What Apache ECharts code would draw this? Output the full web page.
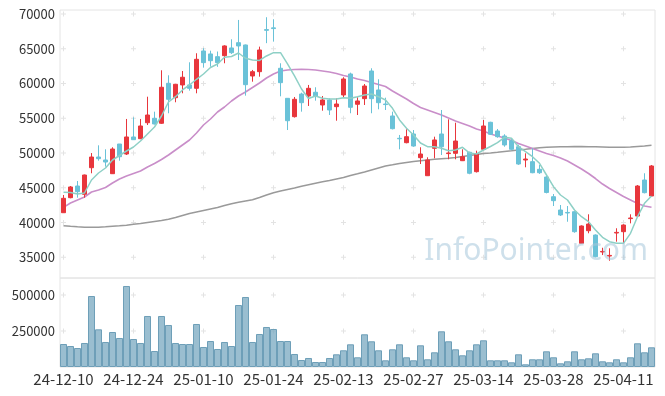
<!DOCTYPE html>
<html>
<head>
<meta charset="utf-8">
<script src="https://cdn.jsdelivr.net/npm/echarts@6/dist/echarts.min.js"></script>
<style>
html,body{margin:0;padding:0;background:#fff;}
#chart{width:665px;height:396px;}
</style>
</head>
<body>
<div id="chart"></div>
<script>
const dates = ['24-12-10','24-12-11','24-12-12','24-12-13','24-12-16','24-12-17','24-12-18','24-12-19','24-12-20','24-12-23',
'24-12-24','24-12-26','24-12-27','24-12-30','25-01-02','25-01-03','25-01-06','25-01-07','25-01-08','25-01-09',
'25-01-10','25-01-13','25-01-14','25-01-15','25-01-16','25-01-17','25-01-20','25-01-21','25-01-22','25-01-23',
'25-01-24','25-01-31','25-02-03','25-02-04','25-02-05','25-02-06','25-02-07','25-02-10','25-02-11','25-02-12',
'25-02-13','25-02-14','25-02-17','25-02-18','25-02-19','25-02-20','25-02-21','25-02-24','25-02-25','25-02-26',
'25-02-27','25-02-28','25-03-04','25-03-05','25-03-06','25-03-07','25-03-10','25-03-11','25-03-12','25-03-13',
'25-03-14','25-03-17','25-03-18','25-03-19','25-03-20','25-03-21','25-03-24','25-03-25','25-03-26','25-03-27',
'25-03-28','25-03-31','25-04-01','25-04-02','25-04-03','25-04-04','25-04-07','25-04-08','25-04-09','25-04-10',
'25-04-11','25-04-14','25-04-15','25-04-16','25-04-17'];

const openPrices = [41420,43580,45260,44070,47890,49430,49000,47030,51300,49860,
52310,52060,54360,55000,54280,60030,57960,59790,59790,59310,
64680,64250,63860,64000,65110,65870,65540,61080,61700,67750,
68000,62190,57870,55230,58490,58200,58740,56910,57630,56670,
58350,61370,57010,57820,61800,59070,57050,55330,52120,51490,
52740,49330,46740,50680,52740,49920,49960,48900,50110,47320,
50540,54420,53170,52450,51780,50910,49000,48760,47660,46550,
43720,41810,41460,41560,37020,38830,38210,35770,35190,38500,
38690,40570,40940,46120,43820];
const closePrices = [43490,45120,44440,46840,49430,49190,48710,50580,49470,52310,
51920,53890,55470,54180,59460,57730,59890,60900,59310,63480,
63000,63280,63000,65400,64430,65400,59830,61700,64820,67650,
67900,60120,54650,57730,57240,59310,58200,57630,56190,57050,
60650,56580,57490,59640,57820,57240,56970,53500,52050,52350,
51010,49860,49000,51880,50910,50010,51730,49470,47090,49860,
53890,52700,52350,51160,50540,48420,49140,47170,47170,44330,
43150,41090,41380,38690,39510,39790,35090,35850,35280,38590,
39650,40660,45260,44300,48140];
const lowPrices = [41400,43490,43580,43580,47090,48900,48040,47000,48900,49720,
51880,52000,54030,54100,54180,55720,57300,58590,58970,58590,
62280,62420,62400,62910,64250,63380,58250,60260,60980,65800,
66020,58160,53310,55100,55950,56770,57530,56090,55470,54650,
58020,55720,55470,56910,55720,56290,56190,53400,50540,51400,
50900,48420,46700,49240,49720,49100,49100,48850,46950,47200,
50400,52600,52200,50910,50400,48300,47950,47100,47000,44200,
42380,40950,40120,38540,36950,38460,35000,35330,34510,37250,
36920,39890,40850,44200,43700];
const highPrices = [43970,45260,45980,46900,50000,51110,50540,50830,51300,54900,
55140,54900,58100,55950,61900,61180,59950,61800,63050,64350,
65070,64720,64600,65500,66360,69140,65600,61950,65300,69530,
69240,62910,57900,58060,58680,59790,59460,58200,57870,57870,
60900,61560,58020,59930,62190,60610,57960,55950,52600,53420,
53310,50830,49390,52350,56190,54850,54360,50540,50200,50340,
54750,54500,53460,52700,52000,51200,49960,50680,48280,46700,
44110,42530,42380,41650,39600,41190,38300,36380,36300,39180,
39750,41190,45400,47090,48280];
const volumes = [159700,145800,131900,166700,493000,261600,173600,243000,201400,562500,
194400,166700,354200,111100,354200,291700,166700,159700,159700,298600,
138900,180500,125000,173600,145800,430500,486100,173600,229200,277800,
263900,180500,180500,90300,48600,62500,34700,34700,62500,88200,
116000,157600,67400,227100,178500,116000,46500,122900,157600,67400,
46500,150700,53500,102100,247900,178500,122900,81200,116000,157600,
185400,46500,46500,46500,32600,88200,18700,53500,53500,109000,
67400,25700,39600,109000,53500,60400,95100,39600,32600,53500,
32600,67400,164600,102100,136800];
const ma5 = [44353,44325,44109,44253,46123,47129,47849,48999,49646,50294,
50869,51732,52739,53746,55328,57342,58104,59068,59787,60607,
61370,62305,62808,63772,63887,64390,63628,63383,63311,63959,
64433,64433,62808,61082,59212,57846,58205,57874,57774,57774,
57961,57874,58104,58349,58493,58104,57630,56436,54753,53559,
52595,51445,50912,50912,50682,50337,50438,50826,50006,49862,
50438,50941,51488,52264,52121,50912,50193,49474,48525,46842,
45159,43965,43246,41807,40844,40125,38931,37881,37247,37017,
37017,38456,40844,42771,43821];
const ma20 = [42196,42814,43246,43677,44396,44684,45044,45691,46266,46698,
47058,47417,47992,48496,49071,49719,50438,51157,51876,52883,
54034,54897,55904,56623,57486,58205,58780,59428,60075,60794,
61370,61801,61945,62017,62046,62017,61945,61801,61657,61442,
61154,60938,60650,60435,60147,59859,59572,58924,58349,57774,
57126,56551,56191,55832,55472,55041,54609,54250,53890,53458,
53171,52739,52452,52164,51804,51373,51013,50654,50294,49934,
49646,49287,48856,48280,47705,47058,46338,45547,44900,44325,
43749,43246,42742,42383,42196];
const ma60 = [39549,39463,39391,39333,39319,39333,39391,39463,39535,39621,
39750,39866,40009,40153,40297,40470,40729,41016,41304,41520,
41735,41951,42167,42455,42713,42929,43102,43274,43605,43965,
44296,44540,44756,44972,45216,45432,45648,45864,46051,46266,
46482,46770,47014,47273,47561,47849,48136,48309,48496,48640,
48784,48899,48999,49100,49172,49244,49359,49503,49646,49790,
49934,50006,50107,50222,50323,50438,50539,50654,50754,50826,
50869,50898,50912,50927,50927,50912,50898,50869,50840,50826,
50840,50869,50941,51013,51114];
const priceTicks = [35000,40000,45000,50000,55000,60000,65000,70000];
const volumeTicks = [250000,500000];
const labelStep = 10;

const candleData = dates.map((d,i)=>[openPrices[i],closePrices[i],lowPrices[i],highPrices[i]]);
const labelIdx = dates.map((d,i)=>i).filter(i=>i%labelStep===0);
const crossPrice = [];
labelIdx.forEach(i=>priceTicks.forEach(v=>crossPrice.push([dates[i],v])));
const crossVol = [];
labelIdx.forEach(i=>volumeTicks.forEach(v=>crossVol.push([dates[i],v])));

const plus = 'path://M2,0H3V2H5V3H3V5H2V3H0V2H2Z';
const font = '"Noto Sans CJK KR","Noto Sans",sans-serif';
const plain = v => String(v);

const chart = echarts.init(document.getElementById('chart'), null, {renderer:'canvas'});
chart.setOption({
  animation:false,
  backgroundColor:'#fff',
  grid:[
    {left:60,right:10,top:10,height:268,show:true,borderColor:'#e4e4e4',borderWidth:1,backgroundColor:'transparent'},
    {left:60,right:10,top:278,height:89,show:true,borderColor:'#e4e4e4',borderWidth:1,backgroundColor:'transparent'}
  ],
  xAxis:[
    {type:'category',gridIndex:0,data:dates,boundaryGap:true,axisLine:{show:false},axisTick:{show:false},axisLabel:{show:false},splitLine:{show:false}},
    {type:'category',gridIndex:1,data:dates,boundaryGap:true,axisLine:{show:false},axisTick:{show:false},
      axisLabel:{interval:labelStep-1,fontSize:15,color:'#333',fontFamily:font,margin:5},splitLine:{show:false}}
  ],
  yAxis:[
    {type:'value',gridIndex:0,min:32030,max:70570,minInterval:5000,maxInterval:5000,splitNumber:8,scale:true,
      axisLine:{show:false},axisTick:{show:false},splitLine:{show:false},
      axisLabel:{showMinLabel:false,showMaxLabel:false,fontSize:13,color:'#333',fontFamily:font,margin:5,formatter:plain}},
    {type:'value',gridIndex:1,min:0,max:618000,interval:250000,
      axisLine:{show:false},axisTick:{show:false},splitLine:{show:false},
      axisLabel:{showMinLabel:false,showMaxLabel:false,fontSize:13,color:'#333',fontFamily:font,margin:5,formatter:plain}}
  ],
  graphic:[{
    type:'text',right:17,top:236,z:100,silent:true,
    style:{text:'InfoPointer.com',font:'30px "Noto Sans","Open Sans",sans-serif',fill:'rgba(165,198,218,0.55)'}
  }],
  series:[
    {type:'scatter',xAxisIndex:0,yAxisIndex:0,data:crossPrice,symbol:plus,symbolSize:5,silent:true,z:0,itemStyle:{color:'#dcdcdc'}},
    {type:'scatter',xAxisIndex:1,yAxisIndex:1,data:crossVol,symbol:plus,symbolSize:5,silent:true,z:0,itemStyle:{color:'#dcdcdc'}},
    {type:'line',name:'MA60',xAxisIndex:0,yAxisIndex:0,data:ma60,symbol:'none',smooth:false,lineStyle:{color:'#9a9a9a',width:1.6},z:2},
    {type:'line',name:'MA20',xAxisIndex:0,yAxisIndex:0,data:ma20,symbol:'none',smooth:false,lineStyle:{color:'#c98ec9',width:1.6},z:2},
    {type:'candlestick',xAxisIndex:0,yAxisIndex:0,data:candleData,barWidth:5,
      itemStyle:{color:'#e8363c',color0:'#6ac2d8',borderColor:'#e8363c',borderColor0:'#6ac2d8',borderWidth:1},z:3},
    {type:'line',name:'MA5',xAxisIndex:0,yAxisIndex:0,data:ma5,symbol:'none',smooth:false,lineStyle:{color:'#8ed0c6',width:1.5},z:4},
    {type:'bar',xAxisIndex:1,yAxisIndex:1,data:volumes,barCategoryGap:'0%',
      itemStyle:{color:'rgba(120,168,192,0.75)',borderColor:'#6e9fb8',borderWidth:1},z:2}
  ]
});
</script>
</body>
</html>
